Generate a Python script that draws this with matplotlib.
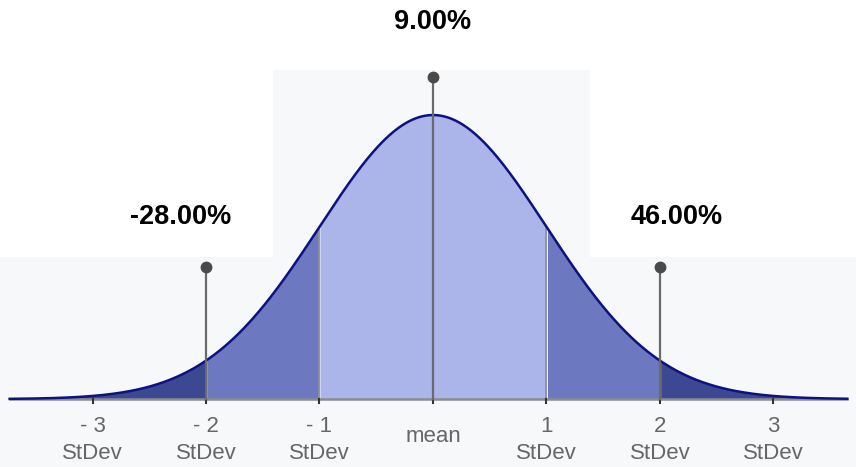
import numpy as np
import matplotlib.pyplot as plt
from matplotlib.patches import Rectangle

# distribution, in standard deviations from the mean
sd_ticks = [-3, -2, -1, 0, 1, 2, 3]
tick_top = ['- 3', '- 2', '- 1', '', '1', '2', '3']
tick_bottom = ['StDev', 'StDev', 'StDev', 'mean', 'StDev', 'StDev', 'StDev']

pin_sd = [-2, 0, 2]
pin_values = ['-28.00%', '9.00%', '46.00%']
pin_heights = [0.465, 1.134, 0.465]

plt.rcParams['font.family'] = ['Liberation Sans', 'DejaVu Sans']

fig = plt.figure(figsize=(8.56, 4.67), dpi=100)
ax = fig.add_axes([0, 0, 1, 1])
ax.set_xlim(-3.815, 3.727)
ax.set_ylim(-0.239, 1.405)
ax.axis('off')

# light backdrop panels
bg = '#f7f8fa'
ax.add_patch(Rectangle((-3.9, -0.3), 7.8, 0.8, color=bg, zorder=0, lw=0))
ax.add_patch(Rectangle((-1.41, 0.45), 2.79, 0.708, color=bg, zorder=0, lw=0))

x = np.linspace(-3.73, 3.65, 800)
y = np.exp(-x ** 2 / 2)

def band(lo, hi, c):
    m = (x >= lo) & (x <= hi)
    ax.fill_between(x[m], 0, y[m], color=c, lw=0, zorder=1)

band(-4, -2, '#3c4891')
band(-2, -1, '#6c78c0')
band(-1, 1, '#abb5ea')
band(1, 2, '#6c78c0')
band(2, 4, '#3c4891')

ax.plot(x, y, color='#0c1280', lw=1.8, zorder=3)

# baseline and ticks
ax.plot([x[0], x[-1]], [0, 0], color='#8a8c94', lw=1.8, zorder=2)
for s in sd_ticks:
    ax.plot([s, s], [-0.014, 0.0], color='#333333', lw=1.5, zorder=3)

# +/- 1 sd separators
for s in [-1, 1]:
    ax.plot([s, s], [0, np.exp(-s ** 2 / 2)], color='#8e909a', lw=1.3, zorder=2)

# pins with values
for s, h in zip(pin_sd, pin_heights):
    ax.plot([s, s], [0, h], color='#6a6a6a', lw=1.6, zorder=4)
    ax.plot(s, h, 'o', color='#4a4a4a', ms=7.5, zorder=5)

label_dx = [-0.22, 0.0, 0.15]
label_y = [0.641, 1.327, 0.641]
for s, v, dx, ly in zip(pin_sd, pin_values, label_dx, label_y):
    ax.text(s + dx, ly, v, ha='center', va='center', fontsize=19.5,
            fontweight='bold', color='#000000')

# tick labels
for s, t, b in zip(sd_ticks, tick_top, tick_bottom):
    if t:
        ax.text(s, -0.095, t, ha='center', va='center', fontsize=16, color='#666666')
        ax.text(s, -0.193, b, ha='center', va='center', fontsize=16, color='#666666')
    else:
        ax.text(s, -0.132, b, ha='center', va='center', fontsize=16, color='#666666')

fig.savefig('out.png', dpi=100, facecolor='white')
